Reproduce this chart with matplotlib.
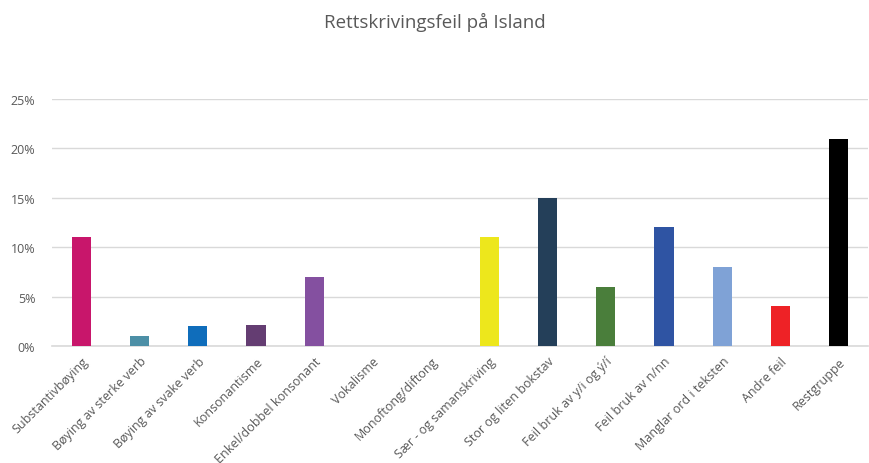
import numpy as np
import matplotlib.pyplot as plt
from matplotlib.ticker import FuncFormatter

categories = ['Substantivbøying', 'Bøying av sterke verb', 'Bøying av svake verb',
              'Konsonantisme', 'Enkel/dobbel konsonant', 'Vokalisme', 'Monoftong/diftong',
              'Sær - og samanskriving', 'Stor og liten bokstav', 'Feil bruk av y/i og ý/í',
              'Feil bruk av n/nn', 'Manglar ord i teksten', 'Andre feil', 'Restgruppe']
values = [11, 1, 2, 2.1, 7, 0, 0, 11, 15, 6, 12, 8, 4, 21]
colors = ['#C8166B', '#4C8FA6', '#0F6DBB', '#643D72', '#8450A0', '#C0C0C0', '#C0C0C0',
          '#EDE71C', '#243F59', '#4A7E3B', '#2F54A3', '#7FA2D6', '#EE2226', '#000000']

plt.rcParams['font.family'] = ['Open Sans', 'DejaVu Sans']

fig = plt.figure(figsize=(8.7, 4.64), dpi=100)
ax = fig.add_axes([52 / 870, 1 - 347 / 464, 816 / 870, 247 / 464])

x = np.arange(len(categories))
ax.bar(x, values, width=0.33, color=colors, zorder=3)

ax.set_xlim(-0.5, len(categories) - 0.5)
ax.set_ylim(0, 25)
ax.set_yticks([0, 5, 10, 15, 20, 25])
ax.yaxis.set_major_formatter(FuncFormatter(lambda v, p: '{:.0f}%'.format(v)))
ax.grid(axis='y', color='#D9D9D9', linewidth=1, zorder=0)
ax.set_xticks(x)
ax.set_xticklabels(categories, rotation=45, ha='right', rotation_mode='anchor',
                   fontsize=9, color='#595959')
ax.tick_params(axis='y', length=0, labelsize=9, labelcolor='#595959', pad=12)
ax.tick_params(axis='x', length=0, pad=6)
for s in ['top', 'right', 'left']:
    ax.spines[s].set_visible(False)
ax.spines['bottom'].set_color('#D9D9D9')
ax.spines['bottom'].set_linewidth(1.2)

fig.text(0.5, 1 - 22 / 464, 'Rettskrivingsfeil på Island', ha='center', va='center',
         fontsize=13.5, color='#595959')

fig.savefig('out.png', dpi=100)
